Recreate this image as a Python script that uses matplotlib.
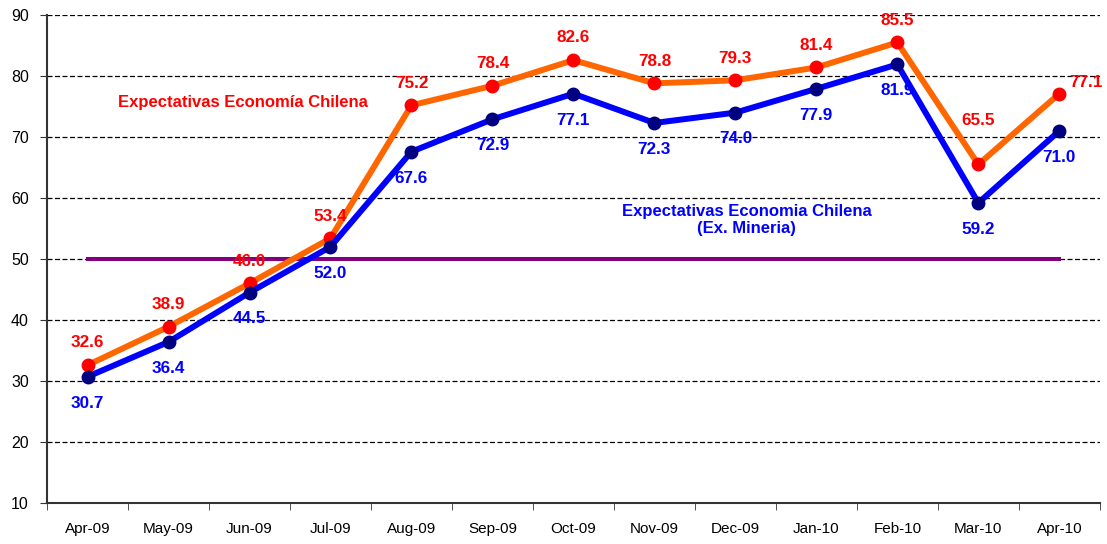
import matplotlib
matplotlib.use("Agg")
import matplotlib.pyplot as plt
import numpy as np

plt.rcParams['font.family'] = ['Liberation Sans', 'DejaVu Sans']

# data
months = ["Apr-09", "May-09", "Jun-09", "Jul-09", "Aug-09", "Sep-09", "Oct-09",
          "Nov-09", "Dec-09", "Jan-10", "Feb-10", "Mar-10", "Apr-10"]
chilena = [32.6, 38.9, 46.0, 53.4, 75.2, 78.4, 82.6, 78.8, 79.3, 81.4, 85.5, 65.5, 77.1]
ex_mineria = [30.7, 36.4, 44.5, 52.0, 67.6, 72.9, 77.1, 72.3, 74.0, 77.9, 81.9, 59.2, 71.0]
neutral = 50

fig = plt.figure(figsize=(11.07, 5.44), dpi=100)
ax = fig.add_axes([0.0425, 0.0754, 0.951, 0.897])

x = np.arange(len(months))

ax.plot([x[0], x[-1]], [neutral, neutral], color="#800080", lw=2.9, zorder=2)
ax.plot(x, chilena, color="#FF6600", lw=4.3, marker="o", ms=9,
        mfc="#FF0000", mec="#FF0000", zorder=3)
ax.plot(x, ex_mineria, color="#0000FF", lw=4.3, marker="o", ms=9,
        mfc="#000080", mec="#000080", zorder=3)

# label offsets (points)
for i, v in enumerate(chilena):
    off = (0, 16)
    if i == 11:
        off = (0, 32)
    if i == len(months) - 1:
        off = (19, 8)
    ax.annotate(f"{v:.1f}", (x[i], v), xytext=off, textcoords="offset points",
                ha="center", va="center", color="#FF0000", fontsize=12.3,
                fontweight="bold", zorder=5)
for i, v in enumerate(ex_mineria):
    ax.annotate(f"{v:.1f}", (x[i], v), xytext=(0, -19), textcoords="offset points",
                ha="center", va="center", color="#0000FF", fontsize=12.3,
                fontweight="bold", zorder=5)

ax.text(1.92, 75.6, "Expectativas Economía Chilena", color="#FF0000", fontsize=12,
        fontweight="bold", ha="center", va="center")
ax.text(8.14, 56.4, "Expectativas Economia Chilena\n(Ex. Mineria)", color="#0000FF",
        fontsize=12, fontweight="bold", ha="center", va="center", linespacing=1.2)

ax.set_xlim(-0.5, len(months) - 0.5)
ax.set_ylim(10, 90)
ax.set_yticks(np.arange(10, 91, 10))
ax.set_xticks(x)
ax.set_xticklabels(months, fontsize=11)
ax.set_xticks(np.arange(-0.5, len(months), 1), minor=True)
ax.tick_params(axis="x", which="major", length=0, pad=14)
ax.tick_params(axis="x", which="minor", length=5, direction="out", color="#333333")
ax.tick_params(axis="y", labelsize=11.5, length=5, color="#333333", pad=8)
ax.yaxis.grid(True, linestyle=(0, (4, 2)), color="black", lw=0.9)
ax.set_axisbelow(True)

for s in ["top", "right"]:
    ax.spines[s].set_visible(False)
ax.spines["left"].set_color("#333333")
ax.spines["bottom"].set_color("#333333")
ax.spines["left"].set_linewidth(1.5)
ax.spines["bottom"].set_linewidth(1.5)

fig.savefig("out.png", dpi=100)
